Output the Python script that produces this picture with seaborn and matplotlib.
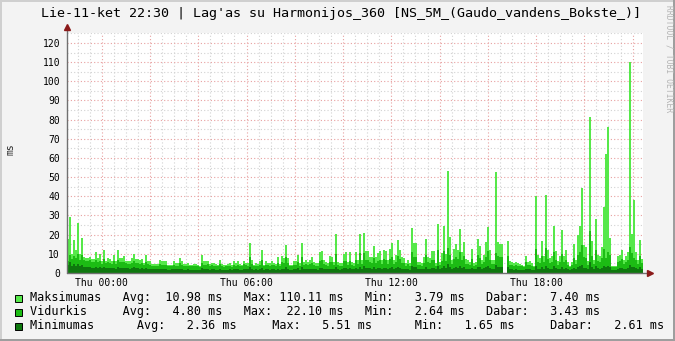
import numpy as np
import pandas as pd
import matplotlib
matplotlib.use("Agg")
import matplotlib.pyplot as plt
from matplotlib.patches import Rectangle
from matplotlib.ticker import MultipleLocator
import seaborn as sns

nan = float("nan")

# ---- data (5-minute samples, ms) ----
maksimumas = [
    17.6, 29.0, 10.0, 17.0, 12.0, 26.0, 10.0, 18.5, 8.5, 7.6,
    7.6, 8.5, 7.3, 7.3, 11.0, 7.6, 10.0, 6.0, 12.0, 6.0,
    7.6, 7.3, 6.0, 9.4, 6.0, 12.0, 7.6, 7.8, 8.9, 6.4,
    6.4, 6.0, 7.6, 10.0, 7.3, 7.3, 6.8, 7.3, 5.0, 9.4,
    6.0, 6.0, 4.7, 4.7, 4.7, 4.7, 6.8, 6.0, 6.0, 6.0,
    4.2, 4.2, 4.2, 6.0, 5.0, 5.0, 7.8, 6.0, 4.7, 4.7,
    5.4, 4.2, 4.2, 4.7, 4.7, 4.2, 3.9, 9.4, 6.0, 6.0,
    6.4, 4.7, 5.4, 5.4, 4.7, 4.2, 6.8, 4.7, 4.2, 4.2,
    4.7, 5.0, 4.2, 6.4, 5.4, 6.4, 4.7, 4.2, 6.4, 5.4,
    5.4, 15.8, 6.8, 4.2, 5.4, 4.7, 6.4, 12.0, 4.2, 6.0,
    5.4, 5.0, 6.0, 5.4, 4.7, 8.5, 4.7, 8.9, 7.6, 14.6,
    7.8, 4.2, 4.2, 6.0, 6.0, 9.4, 5.0, 15.5, 5.9, 6.8,
    5.9, 6.8, 8.2, 5.9, 5.0, 5.0, 10.8, 11.5, 6.8, 5.9,
    5.0, 8.9, 8.5, 5.9, 20.3, 5.9, 5.0, 5.0, 9.9, 11.0,
    5.9, 11.0, 5.9, 5.0, 11.0, 6.8, 20.3, 6.8, 20.9, 11.5,
    11.5, 8.5, 8.5, 14.0, 8.2, 10.3, 11.5, 6.8, 12.0, 11.5,
    6.8, 12.7, 15.8, 6.8, 9.4, 17.2, 12.0, 8.2, 7.8, 5.0,
    6.8, 5.0, 23.3, 15.5, 15.8, 5.9, 5.9, 5.0, 8.5, 17.7,
    8.5, 7.6, 11.7, 11.7, 5.0, 25.6, 5.9, 10.3, 24.7, 9.9,
    53.2, 18.6, 6.8, 12.5, 15.1, 12.0, 23.0, 11.1, 16.3, 7.1,
    6.8, 5.9, 12.5, 5.0, 5.9, 17.7, 14.0, 6.8, 9.4, 16.0,
    23.8, 12.0, 6.8, 6.8, 52.5, 16.0, 15.0, 15.1, nan, nan,
    16.7, 6.3, 5.9, 5.0, 5.9, 5.0, 4.5, 4.2, 3.9, 8.9,
    5.9, 6.3, 5.4, 3.9, 40.2, 9.4, 7.7, 16.7, 8.9, 40.7,
    12.0, 7.7, 8.9, 24.5, 11.5, 6.3, 8.9, 22.4, 8.9, 12.0,
    5.9, 3.9, 5.9, 15.1, 6.8, 19.8, 24.5, 44.5, 14.6, 13.7,
    6.3, 81.2, 16.7, 6.8, 28.2, 9.4, 8.9, 13.7, 34.6, 62.1,
    76.0, 18.0, 3.9, 3.9, 3.8, 8.9, 9.4, 12.0, 6.8, 8.9,
    11.1, 110.1, 20.2, 38.1, 11.1, 6.8, 17.2, 7.3,
]
vidurkis = [
    6.5, 9.5, 7.2, 9.0, 7.6, 10.0, 7.0, 9.2, 6.8, 6.5,
    6.0, 6.8, 5.9, 5.5, 6.9, 5.6, 6.4, 4.8, 7.2, 5.0,
    5.6, 5.4, 4.9, 6.2, 4.8, 6.8, 5.5, 5.6, 5.9, 5.0,
    4.9, 4.6, 5.4, 6.5, 5.3, 5.1, 4.9, 5.0, 4.2, 5.9,
    4.5, 4.4, 3.8, 3.9, 3.7, 3.8, 4.6, 4.3, 4.1, 4.4,
    3.6, 3.5, 3.7, 4.3, 3.9, 3.8, 5.2, 4.4, 3.7, 3.6,
    3.9, 3.4, 3.5, 3.7, 3.6, 3.4, 3.2, 5.3, 4.2, 4.3,
    4.5, 3.7, 4.0, 3.9, 3.6, 3.4, 4.6, 3.7, 3.3, 3.4,
    3.7, 3.8, 3.3, 4.4, 3.9, 4.3, 3.7, 3.4, 4.5, 4.0,
    3.9, 8.6, 4.6, 3.4, 3.9, 3.7, 4.4, 6.9, 3.4, 4.3,
    4.0, 3.8, 4.2, 4.0, 3.6, 5.4, 3.7, 5.6, 5.1, 8.3,
    5.3, 3.5, 3.4, 4.3, 4.2, 5.8, 3.8, 8.1, 4.3, 4.6,
    4.2, 4.8, 5.4, 4.2, 3.9, 3.8, 6.2, 6.6, 4.7, 4.3,
    3.9, 5.6, 5.5, 4.3, 9.8, 4.3, 3.8, 3.9, 6.1, 6.5,
    4.3, 6.5, 4.4, 3.9, 6.7, 4.8, 10.4, 4.9, 10.6, 6.9,
    6.8, 5.6, 5.4, 7.8, 5.4, 6.3, 6.9, 4.7, 7.2, 6.8,
    4.8, 7.4, 8.6, 4.8, 5.9, 9.1, 7.1, 5.4, 5.2, 3.9,
    4.7, 3.8, 11.2, 8.4, 8.6, 4.2, 4.3, 3.9, 5.4, 9.3,
    5.5, 5.0, 6.8, 6.9, 3.9, 11.9, 4.3, 6.2, 11.6, 6.0,
    13.0, 9.6, 4.8, 7.3, 8.3, 7.1, 11.0, 6.6, 8.8, 4.9,
    4.7, 4.3, 7.2, 3.9, 4.3, 9.4, 7.9, 4.8, 5.9, 8.6,
    11.3, 7.0, 4.8, 4.7, 10.3, 8.7, 8.2, 8.1, nan, nan,
    8.9, 4.4, 4.2, 3.8, 4.2, 3.8, 3.5, 3.4, 3.2, 5.6,
    4.1, 4.4, 3.9, 3.1, 12.6, 5.8, 5.0, 8.8, 5.7, 12.9,
    7.1, 5.0, 5.7, 10.9, 6.8, 4.4, 5.7, 9.7, 5.6, 6.9,
    4.1, 3.2, 4.1, 8.0, 4.7, 9.3, 11.0, 14.8, 8.1, 7.7,
    4.4, 22.1, 8.9, 4.7, 11.8, 6.0, 5.7, 7.6, 12.6, 8.0,
    11.0, 9.3, 3.2, 3.2, 3.1, 5.7, 6.0, 7.1, 4.7, 5.7,
    6.6, 13.7, 10.2, 8.0, 6.7, 4.7, 8.9, 5.0,
]
minimumas = [
    4.2, 5.5, 3.9, 4.6, 3.8, 4.9, 3.6, 4.4, 3.2, 3.1,
    2.9, 3.2, 2.8, 2.7, 3.3, 2.6, 3.0, 2.4, 3.1, 2.5,
    2.6, 2.6, 2.4, 2.8, 2.3, 2.9, 2.5, 2.6, 2.7, 2.4,
    2.4, 2.3, 2.5, 2.9, 2.4, 2.4, 2.3, 2.4, 2.1, 2.6,
    2.2, 2.2, 1.9, 2.0, 1.9, 1.9, 2.2, 2.1, 2.0, 2.1,
    1.8, 1.8, 1.9, 2.1, 1.9, 1.9, 2.3, 2.1, 1.8, 1.8,
    1.9, 1.7, 1.8, 1.8, 1.8, 1.7, 1.65, 2.4, 2.0, 2.0,
    2.1, 1.8, 1.9, 1.9, 1.8, 1.7, 2.1, 1.8, 1.7, 1.7,
    1.8, 1.9, 1.7, 2.1, 1.9, 2.0, 1.8, 1.7, 2.1, 1.9,
    1.9, 3.0, 2.1, 1.7, 1.9, 1.8, 2.0, 2.7, 1.7, 2.0,
    1.9, 1.8, 2.0, 1.9, 1.8, 2.3, 1.8, 2.3, 2.2, 2.9,
    2.2, 1.7, 1.7, 2.0, 2.0, 2.4, 1.8, 2.9, 2.0, 2.1,
    2.0, 2.1, 2.3, 2.0, 1.9, 1.8, 2.5, 2.6, 2.1, 2.0,
    1.9, 2.3, 2.3, 2.0, 3.2, 2.0, 1.8, 1.9, 2.5, 2.6,
    2.0, 2.6, 2.1, 1.9, 2.6, 2.1, 3.3, 2.2, 3.4, 2.7,
    2.7, 2.4, 2.3, 2.9, 2.3, 2.5, 2.7, 2.1, 2.8, 2.7,
    2.1, 2.8, 3.0, 2.1, 2.4, 3.2, 2.8, 2.3, 2.2, 1.9,
    2.1, 1.8, 3.6, 3.0, 3.1, 2.0, 2.0, 1.9, 2.3, 3.3,
    2.3, 2.2, 2.7, 2.7, 1.9, 3.7, 2.0, 2.5, 3.6, 2.4,
    4.6, 3.2, 2.1, 2.8, 3.0, 2.7, 3.5, 2.6, 3.1, 2.1,
    2.1, 2.0, 2.8, 1.9, 2.0, 3.2, 2.9, 2.1, 2.4, 3.0,
    3.6, 2.7, 2.1, 2.1, 4.4, 3.1, 3.0, 3.0, nan, nan,
    3.1, 2.0, 1.9, 1.8, 1.9, 1.8, 1.7, 1.7, 1.65, 2.3,
    1.9, 2.0, 1.8, 1.7, 3.7, 2.3, 2.1, 3.0, 2.3, 3.8,
    2.6, 2.1, 2.3, 3.4, 2.6, 2.0, 2.3, 3.1, 2.3, 2.6,
    1.9, 1.7, 1.9, 2.8, 2.0, 3.0, 3.4, 4.1, 2.8, 2.7,
    2.0, 5.5, 2.9, 2.1, 3.5, 2.4, 2.3, 2.7, 3.6, 2.9,
    3.6, 3.0, 1.7, 1.7, 1.7, 2.3, 2.4, 2.6, 2.1, 2.3,
    2.5, 4.2, 3.2, 3.0, 2.5, 2.1, 2.9, 2.2,
]
assert len(maksimumas) == len(vidurkis) == len(minimumas) == 288

title = "Lie-11-ket 22:30 | Lag'as su Harmonijos_360 [NS_5M_(Gaudo_vandens_Bokste_)]"
y_label = "ms"
series_names = ["Maksimumas", "Vidurkis", "Minimumas"]
stat_avg = ["10.98", "4.80", "2.36"]
stat_max = ["110.11", "22.10", "5.51"]
stat_min = ["3.79", "2.64", "1.65"]
stat_cur = ["7.40", "3.43", "2.61"]
x_tick_hours = [0, 6, 12, 18]
x_tick_labels = ["Thu 00:00", "Thu 06:00", "Thu 12:00", "Thu 18:00"]
y_ticks = list(range(0, 121, 10))
watermark = "RRDTOOL / TOBI OETIKER"

colors = ["#56E84A", "#1CBC14", "#0E780E"]

# time axis (hours relative to Thu 00:00)
t_start, t_end = -1.44, 22.43
n = len(maksimumas)
hours = t_start + (np.arange(n) + 0.5) * (t_end - t_start) / n
df = pd.DataFrame({"hour": hours, "Maksimumas": maksimumas,
                   "Vidurkis": vidurkis, "Minimumas": minimumas})

sns.set_style("white")
plt.rcParams["font.family"] = ["DejaVu Sans Mono", "DejaVu Sans"]

W, H = 675, 341
fig = plt.figure(figsize=(W / 100, H / 100), dpi=100, facecolor="#F3F3F3")
ax = fig.add_axes([67 / W, 1 - 273 / H, 576 / W, 240 / H])
ax.set_facecolor("white")

for name, col in zip(series_names, colors):
    sub = df[["hour", name]].dropna()
    sns.barplot(data=sub, x="hour", y=name, native_scale=True, orient="x",
                width=1.0, color=col, saturation=1, errorbar=None,
                linewidth=0, edgecolor="none", antialiased=False, ax=ax, zorder=2)

ax.set_xlim(t_start, t_end)
ax.set_ylim(0, 125.2)
ax.set_xlabel("")
ax.set_ylabel("")

ax.xaxis.set_major_locator(MultipleLocator(2))
ax.xaxis.set_minor_locator(MultipleLocator(0.5))
ax.yaxis.set_major_locator(MultipleLocator(10))
ax.yaxis.set_minor_locator(MultipleLocator(5))
ax.grid(False)
ax.grid(which="minor", color="#D2D2D2", linestyle=(0, (1, 2)), linewidth=0.8, zorder=1)
ax.grid(which="major", color="#E8A0A0", linestyle=(0, (1, 2)), linewidth=0.8, zorder=1)
ax.set_axisbelow(True)

major_pos = ax.get_xticks()
lbl_map = dict(zip(x_tick_hours, x_tick_labels))
ax.set_xticks(major_pos)
ax.set_xticklabels([lbl_map.get(int(round(p)), "") if abs(p - round(p)) < 1e-6 else "" for p in major_pos])
ax.set_xlim(t_start, t_end)
ax.set_yticks(y_ticks)
ax.set_yticklabels([str(v) for v in y_ticks])
ax.set_ylim(0, 125.2)

ax.tick_params(axis="both", which="both", direction="out", length=2, color="#B0B0B0",
               labelsize=7, labelcolor="black")
ax.tick_params(axis="y", pad=3)
ax.tick_params(axis="x", pad=1.5)

for s in ax.spines.values():
    s.set_visible(False)

# axis lines with arrows
ax.plot([0, 0], [0, 1 + 4 / 240], transform=ax.transAxes, color="#707070", lw=1,
        clip_on=False, zorder=5)
ax.plot([0, 1 + 5 / 576], [0, 0], transform=ax.transAxes, color="#707070", lw=1,
        clip_on=False, zorder=5)
ax.plot([0], [1 + 6 / 240], transform=ax.transAxes, marker="^", ms=4.5,
        color="#8B1A1A", clip_on=False, zorder=6)
ax.plot([1 + 7 / 576], [0], transform=ax.transAxes, marker=">", ms=4.5,
        color="#8B1A1A", clip_on=False, zorder=6)

# title, axis label, watermark
fig.text(341 / W, 1 - 14 / H, title, ha="center", va="center", fontsize=9.6, color="black")
fig.text(11 / W, 1 - 149 / H, y_label, rotation=90, ha="center", va="center", fontsize=7)
fig.text(669 / W, 1 - 5 / H, watermark, rotation=270, ha="center", va="top",
         fontsize=5.8, color="#B4B4B4")

# legend (GPRINT-like)
rows = []
for k, name in enumerate(series_names):
    if k < 2:
        rows.append(f"{name:<13}Avg:{stat_avg[k]:>7} ms   Max:{stat_max[k]:>7} ms   "
                    f"Min:{stat_min[k]:>7} ms   Dabar:{stat_cur[k]:>7} ms")
    else:
        rows.append(f"{name:<15}Avg:{stat_avg[k]:>7} ms     Max:{stat_max[k]:>7} ms      "
                    f"Min:{stat_min[k]:>7} ms     Dabar:{stat_cur[k]:>7} ms")
for k, (row, col) in enumerate(zip(rows, colors)):
    yc = 298 + 14 * k
    fig.add_artist(Rectangle((15 / W, 1 - (yc + 3.5) / H), 7 / W, 7 / H,
                             transform=fig.transFigure, facecolor=col,
                             edgecolor="black", linewidth=0.7))
    fig.text(30 / W, 1 - yc / H, row, ha="left", va="center", fontsize=8.5, color="black")

# frame shading
fig.add_artist(Rectangle((0, 0), 2 / W, 1, transform=fig.transFigure,
                         facecolor="#CFCFCF", edgecolor="none"))
fig.add_artist(Rectangle((0, 1 - 2 / H), 1, 2 / H, transform=fig.transFigure,
                         facecolor="#CFCFCF", edgecolor="none"))
fig.add_artist(Rectangle((1 - 2 / W, 0), 2 / W, 1, transform=fig.transFigure,
                         facecolor="#9E9E9E", edgecolor="none"))
fig.add_artist(Rectangle((0, 0), 1, 2 / H, transform=fig.transFigure,
                         facecolor="#9E9E9E", edgecolor="none"))

fig.savefig("out.png", dpi=100, facecolor=fig.get_facecolor())
